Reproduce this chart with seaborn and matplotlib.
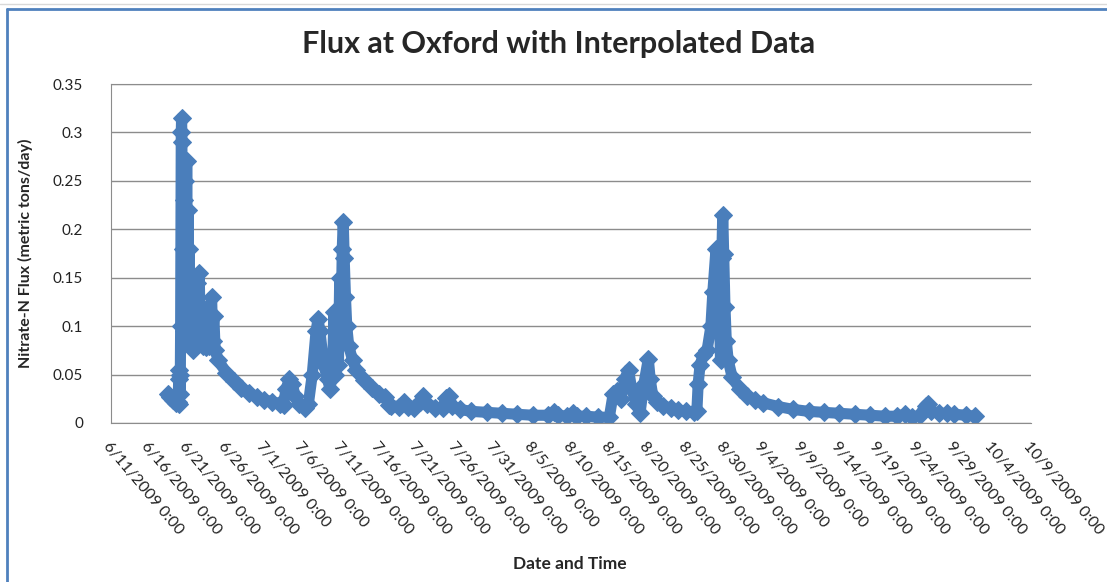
import seaborn as sns
import matplotlib.pyplot as plt
import pandas as pd
from matplotlib.lines import Line2D

# Flux values (time stamp, metric tons/day)
times = [
    "6/18/2009 10:00", "6/18/2009 18:00", "6/19/2009 02:00", "6/19/2009 10:00",
    "6/19/2009 18:00", "6/19/2009 20:00", "6/19/2009 21:00", "6/19/2009 22:00",
    "6/20/2009 00:00", "6/20/2009 01:00", "6/20/2009 02:00", "6/20/2009 04:00",
    "6/20/2009 05:00", "6/20/2009 06:00", "6/20/2009 07:00", "6/20/2009 09:00",
    "6/20/2009 11:00", "6/20/2009 13:00", "6/20/2009 15:00", "6/20/2009 17:00",
    "6/20/2009 19:00", "6/20/2009 21:00", "6/20/2009 23:00", "6/21/2009 01:00",
    "6/21/2009 03:00", "6/21/2009 05:00", "6/21/2009 07:00", "6/21/2009 09:00",
    "6/21/2009 11:00", "6/21/2009 14:00", "6/21/2009 17:00", "6/21/2009 20:00",
    "6/22/2009 00:00", "6/22/2009 04:00", "6/22/2009 08:00", "6/22/2009 12:00",
    "6/22/2009 16:00", "6/22/2009 20:00", "6/23/2009 00:00", "6/23/2009 04:00",
    "6/23/2009 08:00", "6/23/2009 14:00", "6/23/2009 20:00", "6/24/2009 03:00",
    "6/24/2009 06:00", "6/24/2009 10:00", "6/24/2009 14:00", "6/25/2009 00:00",
    "6/26/2009 00:00", "6/27/2009 00:00", "6/28/2009 00:00", "6/29/2009 00:00",
    "6/30/2009 00:00", "7/1/2009 00:00", "7/2/2009 00:00", "7/3/2009 00:00",
    "7/3/2009 12:00", "7/3/2009 20:00", "7/4/2009 06:00", "7/4/2009 16:00",
    "7/5/2009 00:00", "7/5/2009 12:00", "7/6/2009 06:00", "7/6/2009 18:00",
    "7/7/2009 06:00", "7/7/2009 18:00", "7/8/2009 00:00", "7/8/2009 06:00",
    "7/8/2009 18:00", "7/9/2009 06:00", "7/9/2009 14:00", "7/9/2009 22:00",
    "7/10/2009 02:00", "7/10/2009 06:00", "7/10/2009 12:00", "7/10/2009 16:00",
    "7/10/2009 20:00", "7/11/2009 00:00", "7/11/2009 04:00", "7/11/2009 07:00",
    "7/11/2009 10:00", "7/11/2009 14:00", "7/11/2009 18:00", "7/12/2009 00:00",
    "7/12/2009 12:00", "7/13/2009 00:00", "7/14/2009 00:00", "7/15/2009 00:00",
    "7/16/2009 00:00", "7/16/2009 18:00", "7/17/2009 06:00", "7/17/2009 12:00",
    "7/18/2009 12:00", "7/19/2009 06:00", "7/19/2009 18:00", "7/20/2009 12:00",
    "7/21/2009 06:00", "7/21/2009 17:00", "7/22/2009 06:00", "7/23/2009 06:00",
    "7/24/2009 06:00", "7/24/2009 18:00", "7/25/2009 02:00", "7/25/2009 12:00",
    "7/26/2009 12:00", "7/28/2009 00:00", "7/30/2009 00:00", "8/1/2009 00:00",
    "8/3/2009 00:00", "8/5/2009 00:00", "8/7/2009 00:00", "8/7/2009 20:00",
    "8/8/2009 06:00", "8/9/2009 12:00", "8/10/2009 06:00", "8/10/2009 18:00",
    "8/12/2009 00:00", "8/13/2009 12:00", "8/15/2009 00:00", "8/15/2009 12:00",
    "8/16/2009 00:00", "8/16/2009 12:00", "8/17/2009 00:00", "8/17/2009 12:00",
    "8/17/2009 22:00", "8/18/2009 12:00", "8/19/2009 00:00", "8/19/2009 12:00",
    "8/20/2009 02:00", "8/20/2009 08:00", "8/20/2009 16:00", "8/21/2009 06:00",
    "8/22/2009 00:00", "8/23/2009 00:00", "8/24/2009 00:00", "8/25/2009 00:00",
    "8/26/2009 00:00", "8/26/2009 10:00", "8/26/2009 14:00", "8/26/2009 20:00",
    "8/27/2009 06:00", "8/27/2009 18:00", "8/28/2009 06:00", "8/28/2009 12:00",
    "8/28/2009 22:00", "8/29/2009 02:00", "8/29/2009 06:00", "8/29/2009 12:00",
    "8/29/2009 16:00", "8/29/2009 19:00", "8/29/2009 22:00", "8/30/2009 02:00",
    "8/30/2009 06:00", "8/30/2009 12:00", "8/31/2009 00:00", "9/1/2009 00:00",
    "9/2/2009 00:00", "9/3/2009 00:00", "9/4/2009 00:00", "9/6/2009 00:00",
    "9/8/2009 00:00", "9/10/2009 00:00", "9/12/2009 00:00", "9/14/2009 00:00",
    "9/16/2009 00:00", "9/18/2009 00:00", "9/20/2009 00:00", "9/21/2009 12:00",
    "9/22/2009 12:00", "9/23/2009 12:00", "9/24/2009 12:00", "9/25/2009 06:00",
    "9/25/2009 14:00", "9/26/2009 00:00", "9/27/2009 00:00", "9/28/2009 00:00",
    "9/29/2009 00:00", "9/30/2009 12:00", "10/1/2009 17:00",
]
flux = [
    0.030, 0.027, 0.024, 0.021,
    0.022, 0.045, 0.020, 0.055,
    0.030, 0.050, 0.100, 0.300,
    0.315, 0.290, 0.100, 0.180,
    0.095, 0.230, 0.110, 0.250,
    0.120, 0.270, 0.100, 0.220,
    0.090, 0.180, 0.085, 0.140,
    0.080, 0.110, 0.075, 0.120,
    0.080, 0.145, 0.090, 0.155,
    0.085, 0.120, 0.080, 0.110,
    0.078, 0.100, 0.080, 0.130,
    0.085, 0.110, 0.075, 0.065,
    0.052, 0.043, 0.036, 0.031,
    0.027, 0.024, 0.022, 0.020,
    0.019, 0.035, 0.045, 0.040,
    0.028, 0.020, 0.016, 0.020,
    0.050, 0.095, 0.107, 0.095,
    0.060, 0.045, 0.035, 0.060,
    0.115, 0.050, 0.080, 0.060,
    0.150, 0.090, 0.180, 0.208,
    0.170, 0.130, 0.100, 0.080,
    0.065, 0.055, 0.044, 0.036,
    0.030, 0.027, 0.019, 0.018,
    0.017, 0.022, 0.017, 0.016,
    0.022, 0.028, 0.020, 0.016,
    0.016, 0.026, 0.028, 0.018,
    0.014, 0.012, 0.011, 0.010,
    0.009, 0.008, 0.008, 0.011,
    0.008, 0.007, 0.010, 0.007,
    0.007, 0.006, 0.006, 0.030,
    0.033, 0.025, 0.045, 0.055,
    0.035, 0.020, 0.010, 0.040,
    0.066, 0.045, 0.028, 0.022,
    0.018, 0.015, 0.013, 0.012,
    0.011, 0.012, 0.040, 0.060,
    0.070, 0.075, 0.100, 0.135,
    0.180, 0.100, 0.160, 0.065,
    0.170, 0.215, 0.175, 0.120,
    0.085, 0.065, 0.048, 0.035,
    0.028, 0.024, 0.021, 0.017,
    0.014, 0.012, 0.011, 0.010,
    0.009, 0.008, 0.007, 0.007,
    0.009, 0.006, 0.008, 0.018,
    0.020, 0.012, 0.010, 0.010,
    0.009, 0.008, 0.007,
]

ytick_vals = [0, 0.05, 0.1, 0.15, 0.2, 0.25, 0.3, 0.35]
ytick_labels = ["0", "0.05", "0.1", "0.15", "0.2", "0.25", "0.3", "0.35"]

df = pd.DataFrame({"time": pd.to_datetime(times, format="%m/%d/%Y %H:%M"), "flux": flux})

sns.set_style("white")
plt.rcParams["font.family"] = ["Lato", "DejaVu Sans"]

fig = plt.figure(figsize=(11.07, 5.82), dpi=100)
ax = fig.add_axes([111 / 1107, 1 - 423 / 582, 920 / 1107, 339 / 582])

# thick line + diamonds to mimic the dense band of Excel markers
sns.lineplot(data=df, x="time", y="flux", ax=ax, color="#4A7EBB", lw=8,
             marker="D", markersize=9, markeredgecolor="#4A7EBB")

# axes, grid
xticks = pd.date_range("2009-06-11", "2009-10-09", freq="5D")
ax.set_xlim(xticks[0], xticks[-1])
ax.set_xticks(xticks)
ax.set_xticklabels([f"{d.month}/{d.day}/{d.year} 0:00" for d in xticks], fontsize=11.5, color="#222222")
plt.setp(ax.get_xticklabels(), rotation=-50, ha="left", va="top", rotation_mode="anchor")
ax.set_ylim(0, 0.35)
ax.set_yticks(ytick_vals)
ax.set_yticklabels(ytick_labels, fontsize=11, color="#222222")
ax.yaxis.grid(True, color="#8C8C8C", lw=1)
ax.set_axisbelow(True)
for s in ["left", "bottom", "top"]:
    ax.spines[s].set_color("#8C8C8C")
ax.spines["right"].set_visible(False)
ax.tick_params(axis="x", direction="out", length=5, color="#8C8C8C", pad=7)
ax.tick_params(axis="y", length=0, pad=20)

ax.set_xlabel("")
ax.set_ylabel("Nitrate-N Flux (metric tons/day)", fontsize=11.5, fontweight="bold")
ax.yaxis.set_label_coords(-0.085, 0.5)

fig.text(559 / 1107, 1 - 44 / 582, "Flux at Oxford with Interpolated Data",
         ha="center", va="center", fontsize=22, fontweight="bold")
fig.text(570 / 1107, 1 - 564 / 582, "Date and Time", ha="center", va="center",
         fontsize=12.5, fontweight="bold")

# chart area border
fig.add_artist(Line2D([6.5 / 1107, 1], [1 - 9 / 582, 1 - 9 / 582], transform=fig.transFigure,
                      color="#4F81BD", lw=2))
fig.add_artist(Line2D([6.5 / 1107, 6.5 / 1107], [0, 1 - 9 / 582], transform=fig.transFigure,
                      color="#4F81BD", lw=2))
fig.add_artist(Line2D([0, 1], [1 - 4 / 582, 1 - 4 / 582], transform=fig.transFigure,
                      color="#D9D9D9", lw=1))

fig.savefig("out.png", dpi=100)
